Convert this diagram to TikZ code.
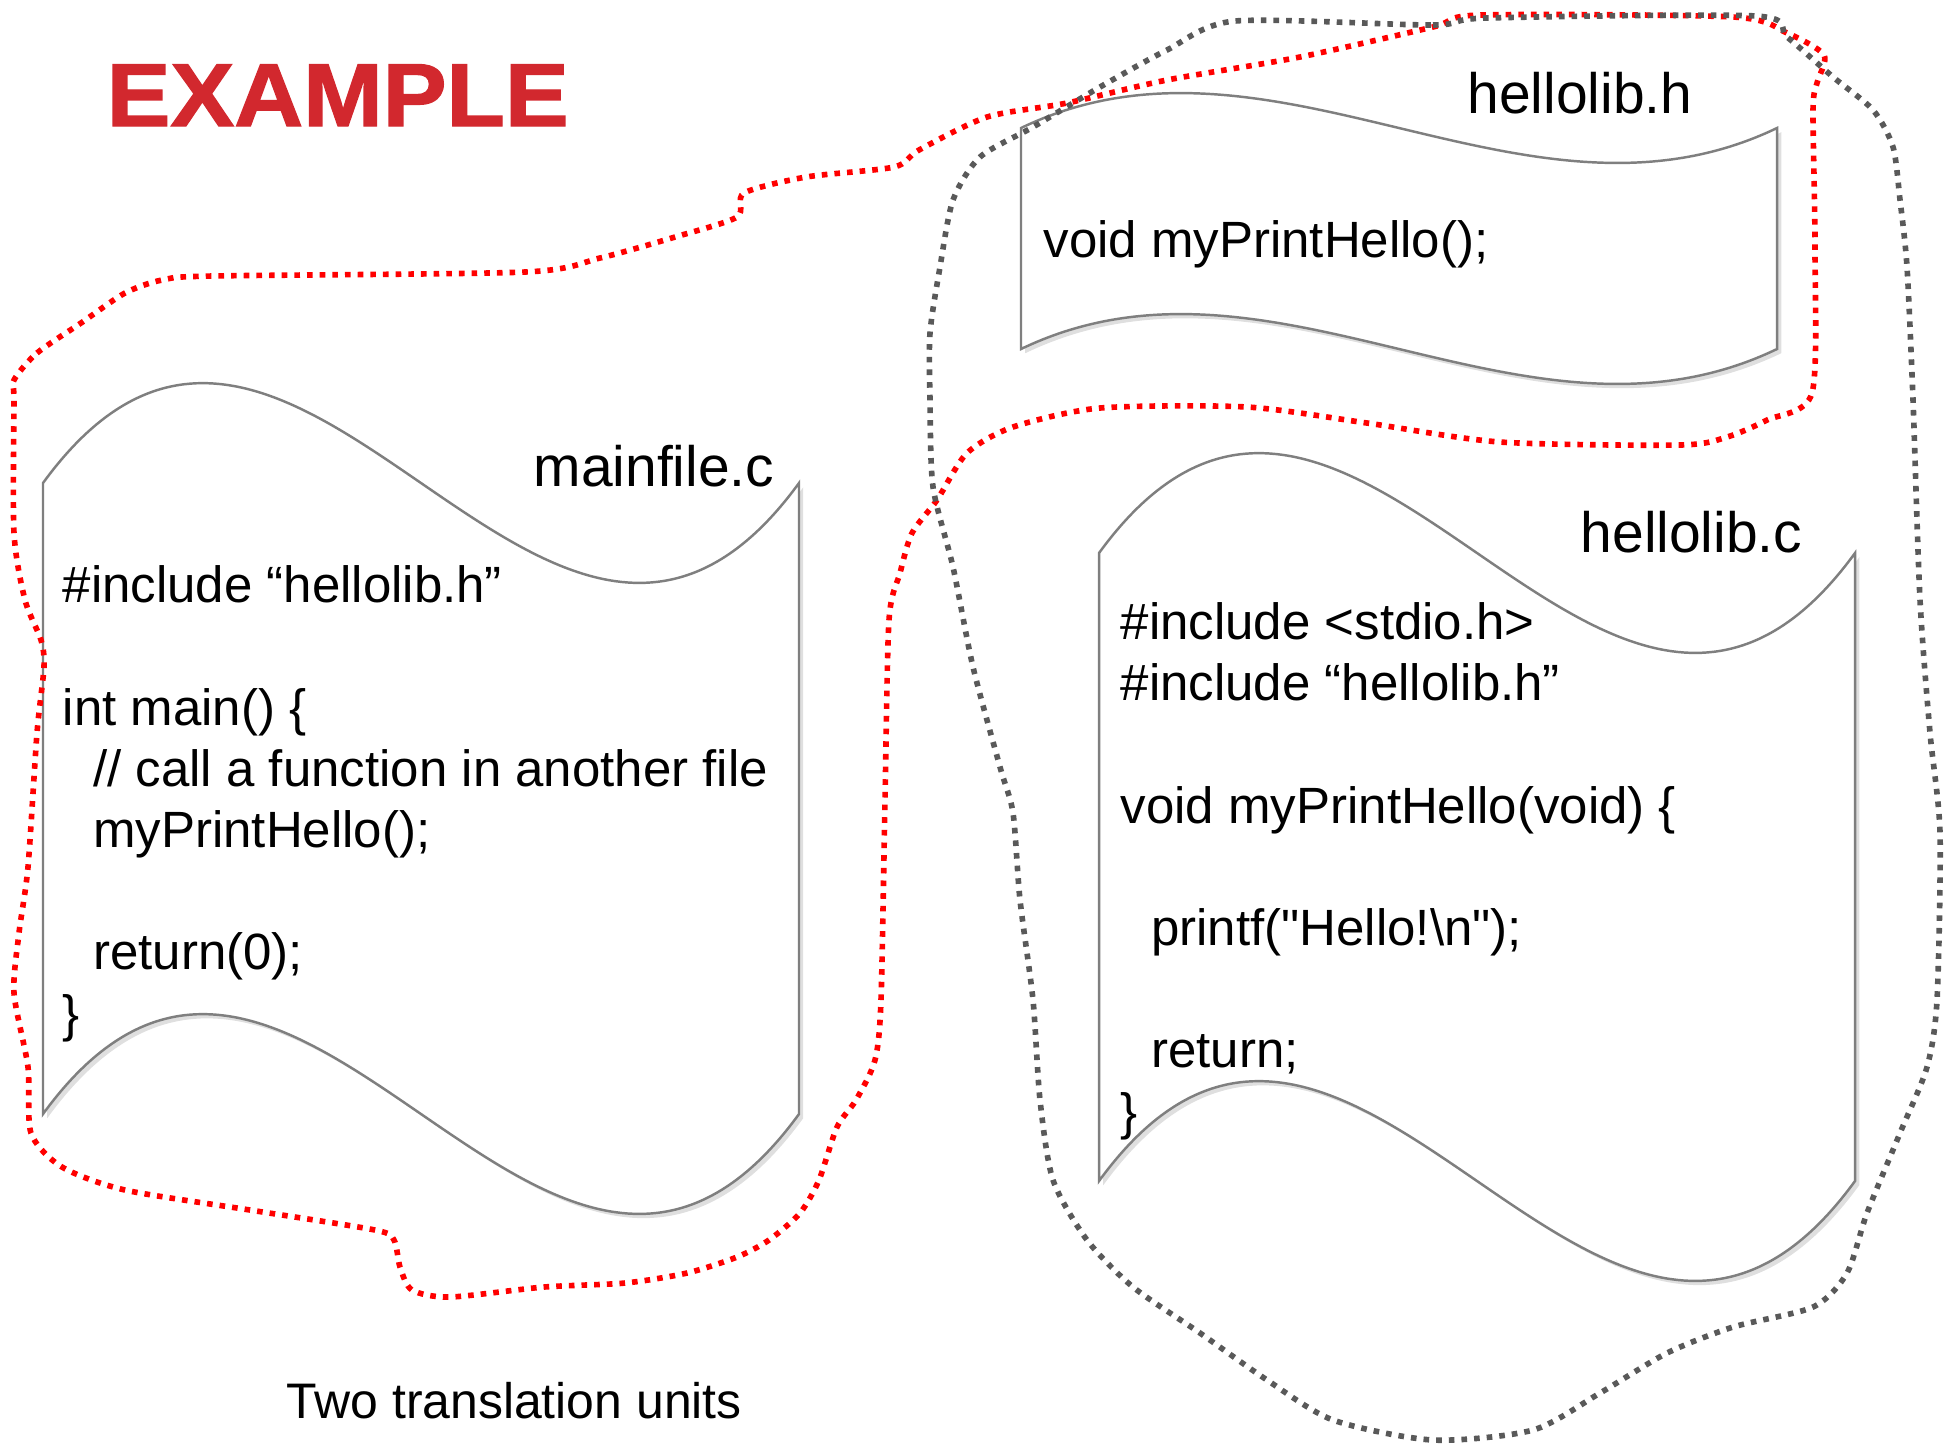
\documentclass[tikz,border=0pt]{standalone}
\usepackage{fontspec}
\setmainfont{Liberation Sans}
\usetikzlibrary{positioning,shadows}
\definecolor{examplered}{RGB}{210,40,46}
\definecolor{docline}{HTML}{7F7F7F}
\definecolor{unitgray}{HTML}{595959}
\newcommand{\ind}{\hspace*{0.6em}}
\tikzset{
  doc/.style={draw=docline, line width=0.7pt, fill=white,
    drop shadow={shadow xshift=1.2pt, shadow yshift=-1.2pt, opacity=0.25}},
  code/.style={align=left, inner sep=0pt, font=\fontsize{14.5}{17.4}\selectfont},
  fname/.style={inner sep=0pt, font=\fontsize{16.2}{19}\selectfont},
  unit/.style={line width=1.6pt, dash pattern=on 1.6pt off 2pt},
}

\begin{document}
\begin{tikzpicture}[x=0.01cm, y=-0.01cm]
  \useasboundingbox (0,0) rectangle (1946,1447);

  % the three files
  \path[doc] (43,483) .. controls (295,137) and (547,829) .. (799,483)
    -- (799,1114) .. controls (547,1460) and (295,768) .. (43,1114) -- cycle;
  \path[doc] (1021,128) .. controls (1273,7) and (1525,249) .. (1777,128)
    -- (1777,349) .. controls (1525,470) and (1273,228) .. (1021,349) -- cycle;
  \path[doc] (1099,553) .. controls (1351,207) and (1603,899) .. (1855,553)
    -- (1855,1181) .. controls (1603,1527) and (1351,835) .. (1099,1181) -- cycle;

  % translation units
  \draw[unit, red] plot[smooth cycle, tension=0.45] coordinates {
    (14,380) (37,353) (81,323) (125,293) (162,280) (212,276) (525,272)
    (600,258) (675,237) (737,217) (744,193) (806,177) (894,167) (919,150)
    (987,117) (1067,103) (1167,80) (1300,57) (1433,27) (1480,15) (1733,17)
    (1787,33) (1824,55) (1817,83) (1813,110) (1815,250) (1812,393) (1767,420)
    (1727,437) (1680,445) (1500,442) (1367,423) (1247,407) (1100,408)
    (1013,427) (967,453) (937,500) (912,533) (900,573) (889,620) (885,800)
    (881,1000) (875,1060) (856,1100) (837,1127) (819,1180) (800,1213)
    (769,1240) (737,1257) (687,1273) (625,1283) (544,1287) (450,1297)
    (412,1290) (400,1267) (394,1240) (375,1230) (250,1210) (125,1190)
    (62,1167) (31,1133) (28,1067) (14,993) (19,933) (28,867) (37,733)
    (44,667) (41,640) (25,600) (14,533) (14,400)};
  \draw[unit, unitgray] plot[smooth cycle, tension=0.45] coordinates {
    (1235,21) (1433,25) (1487,18) (1756,16) (1787,37) (1833,77) (1873,110)
    (1893,147) (1900,200) (1907,267) (1913,400) (1920,600) (1930,733)
    (1940,833) (1937,1000) (1927,1067) (1900,1133) (1867,1213) (1847,1273)
    (1813,1307) (1733,1327) (1667,1353) (1600,1393) (1533,1430) (1433,1440)
    (1333,1420) (1267,1380) (1200,1333) (1133,1287) (1087,1240) (1053,1180)
    (1040,1100) (1033,1000) (1020,900) (1013,813) (1000,767) (973,667)
    (953,567) (933,487) (930,400) (930,333) (940,267) (953,200) (980,157)
    (1033,127) (1100,87) (1167,50)};

  % texts
  \node[anchor=base west, inner sep=0pt, text=examplered,
    font=\fontsize{25.4}{30}\selectfont\bfseries\addfontfeature{FakeBold=1.5}]
    (title) at (106,126) {\scalebox{1.07}[1]{EXAMPLE}};

  \node[fname, anchor=base east] (main_name) at (775,486) {mainfile.c};
  \node[code, anchor=base west] (main_code) at (62,1031)
    {\#include “hellolib.h”\\[\baselineskip]
     int main() \{\\
     \ind// call a function in another file\\
     \ind myPrintHello();\\[\baselineskip]
     \ind return(0);\\
     \}};

  \node[fname, anchor=base east] (libh_name) at (1693,113) {hellolib.h};
  \node[code, anchor=base west] (libh_code) at (1043,257) {void myPrintHello();};

  \node[fname, anchor=base east] (libc_name) at (1803,552) {hellolib.c};
  \node[code, anchor=base west] (libc_code) at (1120,1129)
    {\#include <stdio.h>\\
     \#include “hellolib.h”\\[\baselineskip]
     void myPrintHello(void) \{\\[\baselineskip]
     \ind printf(\textquotedbl Hello!\textbackslash n\textquotedbl);\\[\baselineskip]
     \ind return;\\
     \}};

  \node[anchor=base west, inner sep=0pt, font=\fontsize{14.2}{17}\selectfont]
    (caption) at (286,1418) {Two translation units};
\end{tikzpicture}
\end{document}
